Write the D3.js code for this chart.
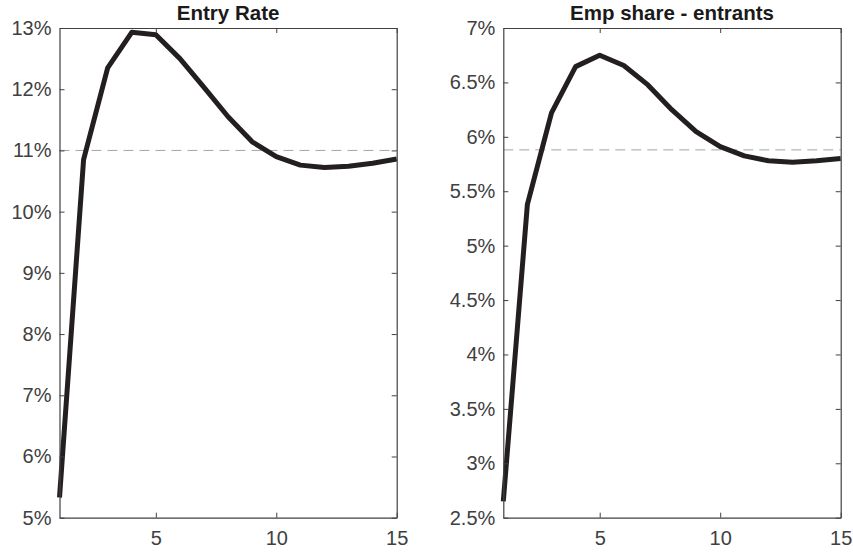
<!DOCTYPE html>
<html>
<head>
<meta charset="utf-8">
<script src="https://cdn.jsdelivr.net/npm/d3@7"></script>
<style>
  html, body { margin: 0; padding: 0; background: #fff; }
  svg { display: block; }
  text { font-family: "Liberation Sans", Arial, Helvetica, sans-serif; }
</style>
</head>
<body>
<svg id="chart" width="853" height="552"></svg>
<script>
// Horizon (periods after the shock)
const periods = [1, 2, 3, 4, 5, 6, 7, 8, 9, 10, 11, 12, 13, 14, 15];

// Entry rate path (%)
const entryRate = [5.33, 10.85, 12.35, 12.93, 12.89, 12.50, 12.03, 11.55, 11.14, 10.90, 10.76, 10.72, 10.74, 10.79, 10.86];
const entrySteady = 11.0;
const entryTicks = [5, 6, 7, 8, 9, 10, 11, 12, 13];

// Employment share of entrants (%)
const empShare = [2.65, 5.38, 6.22, 6.645, 6.75, 6.655, 6.477, 6.247, 6.048, 5.91, 5.825, 5.78, 5.767, 5.78, 5.80];
const empSteady = 5.88;
const empTicks = [2.5, 3, 3.5, 4, 4.5, 5, 5.5, 6, 6.5, 7];

const xTicks = [5, 10, 15];

const panels = [
  { title: "Entry Rate", values: entryRate, steady: entrySteady, ticks: entryTicks,
    domain: [5, 13], left: 59.5, right: 396.7 },
  { title: "Emp share - entrants", values: empShare, steady: empSteady, ticks: empTicks,
    domain: [2.5, 7], left: 503.3, right: 840.7 }
];

const plotTop = 28, plotBottom = 517.7;
const axisColor = "#404040";
const tickLen = 5;
const svg = d3.select("#chart");

panels.forEach(p => {
  const x = d3.scaleLinear().domain([1, 15]).range([p.left, p.right]);
  const y = d3.scaleLinear().domain(p.domain).range([plotBottom, plotTop]);
  const g = svg.append("g");

  // steady-state reference line
  g.append("line")
    .attr("x1", x(1)).attr("x2", x(15))
    .attr("y1", y(p.steady)).attr("y2", y(p.steady))
    .attr("stroke", "#a6a6a6").attr("stroke-width", 1)
    .attr("stroke-dasharray", "10,6");

  // response path
  const line = d3.line().x((d, i) => x(periods[i])).y(d => y(d));
  g.append("path")
    .datum(p.values)
    .attr("d", line)
    .attr("fill", "none")
    .attr("stroke", "#231f20")
    .attr("stroke-width", 5)
    .attr("stroke-linejoin", "round");

  // box axes with inward ticks
  const fmt = v => d3.format("~g")(v) + "%";
  const axL = d3.axisLeft(y).tickValues(p.ticks).tickSize(-tickLen).tickSizeOuter(0).tickPadding(8).tickFormat(fmt);
  const axR = d3.axisRight(y).tickValues(p.ticks).tickSize(-tickLen).tickSizeOuter(0).tickFormat("");
  const axB = d3.axisBottom(x).tickValues(xTicks).tickSize(-tickLen).tickSizeOuter(0).tickPadding(13).tickFormat(d3.format("d"));
  const axT = d3.axisTop(x).tickValues(xTicks).tickSize(-tickLen).tickSizeOuter(0).tickFormat("");

  const styleAxis = sel => {
    sel.selectAll("path.domain").attr("stroke", axisColor).attr("stroke-width", 1.2);
    sel.selectAll(".tick line").attr("stroke", axisColor).attr("stroke-width", 1);
    sel.selectAll(".tick text").attr("fill", axisColor).attr("font-size", 20)
      .attr("font-family", "'Liberation Sans', Arial, Helvetica, sans-serif");
  };

  g.append("g").attr("transform", `translate(${p.left},0)`).call(axL).call(styleAxis);
  g.append("g").attr("transform", `translate(${p.right},0)`).call(axR).call(styleAxis);
  const gb = g.append("g").attr("transform", `translate(0,${plotBottom})`).call(axB).call(styleAxis);
  gb.selectAll(".tick text").attr("dy", "0.71em");
  g.append("g").attr("transform", `translate(0,${plotTop})`).call(axT).call(styleAxis);

  // title
  g.append("text")
    .attr("x", (p.left + p.right) / 2)
    .attr("y", 20)
    .attr("text-anchor", "middle")
    .attr("font-size", 20.5)
    .attr("font-weight", "bold")
    .attr("fill", "#1a1a1a")
    .text(p.title);
});
</script>
</body>
</html>
